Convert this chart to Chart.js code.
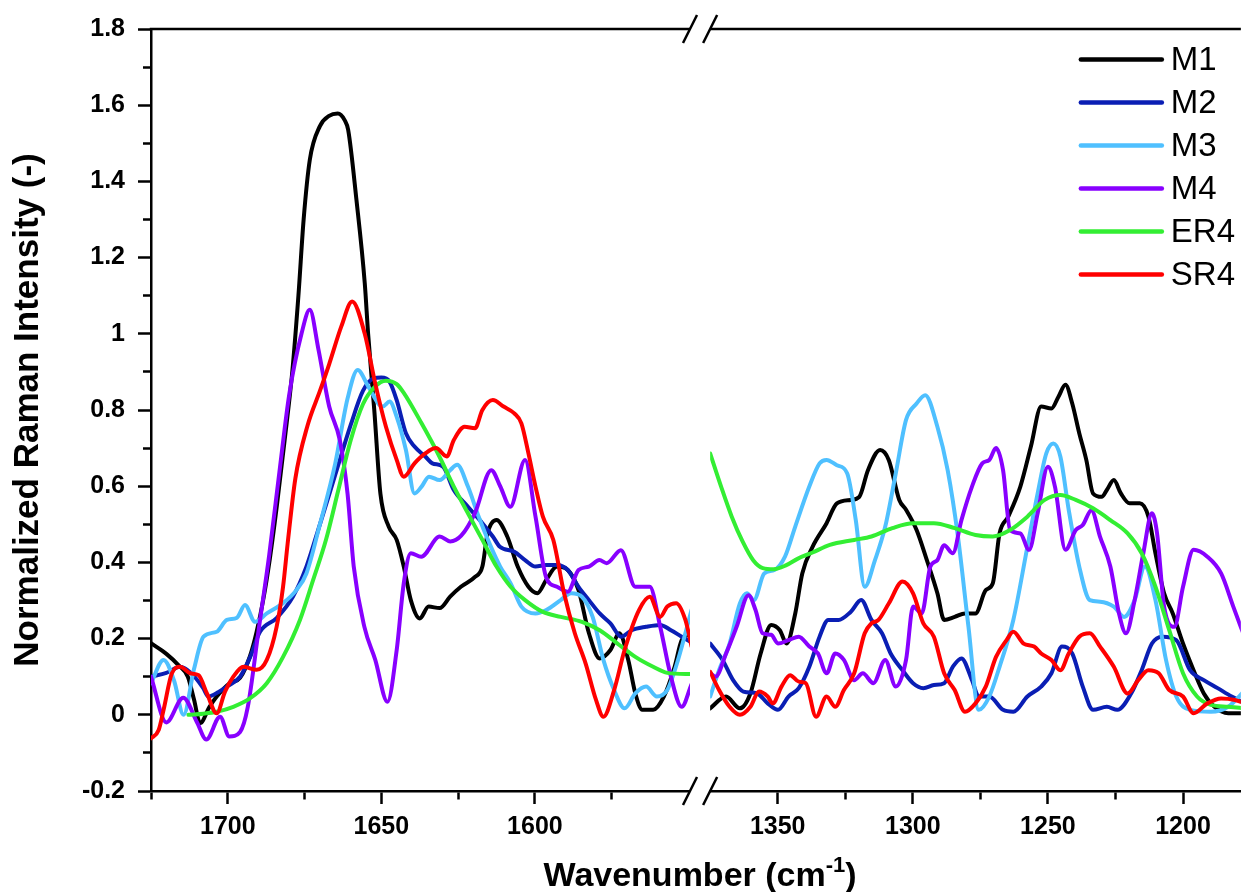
<!DOCTYPE html>
<html>
<head>
<meta charset="utf-8">
<title>Normalized Raman spectra</title>
<script src="https://cdn.jsdelivr.net/npm/chart.js@4.4.1/dist/chart.umd.min.js"></script>
<style>
  html, body { margin: 0; padding: 0; background: #fff; }
  canvas { display: block; }
</style>
</head>
<body>
<canvas id="chart" width="1244" height="892"></canvas>
<script>
// series names and colours
const seriesNames = ['M1', 'M2', 'M3', 'M4', 'ER4', 'SR4'];
const seriesColors = ['#000000', '#0a1eb4', '#4fc0ff', '#8800ff', '#33ee33', '#ff0000'];

// axis ticks (empty label = minor tick)
const yTickValues = [-0.2, -0.1, 0, 0.1, 0.2, 0.3, 0.4, 0.5, 0.6, 0.7, 0.8, 0.9, 1, 1.1, 1.2, 1.3, 1.4, 1.5, 1.6, 1.7, 1.8];
const yTickLabels = ['-0.2', '', '0', '', '0.2', '', '0.4', '', '0.6', '', '0.8', '', '1', '', '1.2', '', '1.4', '', '1.6', '', '1.8'];
const leftTickValues = [1725, 1700, 1675, 1650, 1625, 1600, 1575];
const leftTickLabels = ['', '1700', '', '1650', '', '1600', ''];
const rightTickValues = [1350, 1325, 1300, 1275, 1250, 1225, 1200];
const rightTickLabels = ['1350', '', '1300', '', '1250', '', '1200'];

const xTitleMain = 'Wavenumber (cm';
const xTitleSup = '-1';
const xTitleEnd = ')';
const yTitle = 'Normalized Raman Intensity (-)';

// [wavenumber, intensity] — left window 1725-1550 cm-1
const m1Left = [[1725,0.188],[1720,0.16],[1716,0.13],[1713,0.10],[1711,0.04],[1709,-0.022],[1706,0.02],[1703.6,0.048],[1699.3,0.083],[1696,0.097],[1692.8,0.153],[1690.6,0.218],[1688.5,0.30],[1686.3,0.41],[1684,0.55],[1681.5,0.72],[1679,0.90],[1677,1.10],[1675.3,1.30],[1673.3,1.456],[1670,1.545],[1667,1.572],[1664.2,1.578],[1661.9,1.56],[1660.8,1.535],[1658.1,1.351],[1655.4,1.133],[1654.3,1.0],[1652.3,0.80],[1650.3,0.58],[1647.6,0.494],[1645,0.459],[1642.7,0.389],[1640.4,0.301],[1637.5,0.253],[1634.6,0.284],[1631,0.28],[1627.6,0.31],[1624.1,0.336],[1619.5,0.362],[1617.1,0.389],[1615.4,0.476],[1612.5,0.511],[1609,0.468],[1605.6,0.389],[1602.1,0.336],[1599.2,0.319],[1596.3,0.354],[1592.8,0.389],[1589.3,0.38],[1585.8,0.327],[1582.4,0.214],[1578.9,0.148],[1575.4,0.17],[1572.5,0.214],[1569.6,0.144],[1567.3,0.056],[1565,0.013],[1561.5,0.013],[1558,0.048],[1554.5,0.126],[1552.2,0.196],[1549,0.214]];
const m2Left = [[1725,0.10],[1720,0.11],[1715.5,0.126],[1712,0.11],[1708,0.07],[1706.3,0.048],[1703,0.06],[1700.3,0.074],[1696,0.10],[1692.8,0.15],[1689.5,0.218],[1684.1,0.254],[1678.8,0.31],[1674.4,0.389],[1670,0.50],[1665,0.63],[1660,0.76],[1656,0.85],[1652.5,0.883],[1650,0.885],[1647.3,0.874],[1645,0.826],[1642,0.739],[1639.2,0.704],[1635.7,0.678],[1633.4,0.66],[1629.9,0.651],[1626.4,0.59],[1621.8,0.546],[1617.1,0.503],[1613.7,0.468],[1611.4,0.441],[1606.7,0.428],[1603.2,0.406],[1599.8,0.389],[1596.3,0.393],[1592.8,0.393],[1589.3,0.38],[1585.8,0.336],[1582.4,0.301],[1578.9,0.266],[1575.4,0.24],[1571.9,0.205],[1568.5,0.222],[1563.8,0.231],[1559.2,0.236],[1555.7,0.222],[1552.2,0.205],[1549,0.19]];
const m3Left = [[1725,0.083],[1720.9,0.144],[1717.5,0.09],[1714.4,0.0],[1711,0.12],[1707.9,0.205],[1703.6,0.218],[1700.3,0.249],[1697,0.255],[1694.4,0.288],[1691.1,0.244],[1687.3,0.266],[1682,0.293],[1677.6,0.328],[1674.4,0.371],[1670,0.50],[1665,0.66],[1661,0.83],[1657.7,0.905],[1654.2,0.861],[1649.6,0.809],[1647.3,0.822],[1645,0.782],[1642,0.695],[1639.2,0.581],[1636.9,0.599],[1634.5,0.625],[1631,0.616],[1627.6,0.642],[1625.3,0.656],[1621.8,0.599],[1618.3,0.52],[1614.8,0.45],[1611.3,0.389],[1607.9,0.345],[1604.4,0.284],[1599.8,0.266],[1596.3,0.275],[1591.6,0.301],[1588.2,0.319],[1584.7,0.31],[1581.2,0.257],[1577.7,0.144],[1574.2,0.065],[1570.8,0.017],[1567.3,0.056],[1563.8,0.074],[1560.3,0.048],[1556.9,0.065],[1553.4,0.144],[1549,0.275]];
const m4Left = [[1725,0.10],[1720,-0.02],[1714.5,0.045],[1710,-0.02],[1707,-0.065],[1702.5,-0.005],[1699.5,-0.057],[1696,-0.045],[1693.5,0.02],[1690,0.22],[1686.5,0.42],[1683,0.65],[1680,0.84],[1676,1.0],[1673.3,1.063],[1670.5,0.96],[1667,0.81],[1663.5,0.72],[1661,0.58],[1659,0.39],[1655.5,0.23],[1652,0.145],[1648,0.034],[1645,0.17],[1642.7,0.345],[1640.4,0.424],[1637,0.415],[1631,0.468],[1627.6,0.455],[1624,0.47],[1619.5,0.53],[1614.2,0.642],[1611.3,0.60],[1608,0.546],[1603.2,0.669],[1599.8,0.52],[1596.3,0.36],[1592.8,0.336],[1589.3,0.323],[1585.8,0.38],[1582.4,0.389],[1579,0.406],[1576.6,0.398],[1572,0.432],[1567.3,0.336],[1562.6,0.336],[1559.2,0.231],[1555.7,0.10],[1552.2,0.021],[1549,0.08]];
const er4Left = [[1712.8,0.0],[1708,0.003],[1703.6,0.008],[1698.2,0.021],[1692.8,0.043],[1687.3,0.083],[1682,0.152],[1676.5,0.249],[1672.2,0.354],[1668,0.46],[1664,0.59],[1660,0.72],[1656,0.815],[1652,0.862],[1648.5,0.877],[1645,0.868],[1642.7,0.845],[1636.9,0.765],[1631.1,0.678],[1626.4,0.599],[1621.8,0.529],[1617.1,0.459],[1612.5,0.389],[1607.9,0.336],[1603.2,0.301],[1597.4,0.27],[1591.6,0.257],[1584.7,0.244],[1578.9,0.222],[1573.1,0.187],[1567.3,0.152],[1561.5,0.126],[1556.9,0.11],[1549,0.107]];
const sr4Left = [[1725,-0.062],[1722.5,-0.04],[1720.9,0.013],[1718.2,0.109],[1715.5,0.126],[1712.2,0.109],[1709.5,0.104],[1706.8,0.056],[1703.6,0.004],[1700.9,0.061],[1698.2,0.1],[1694.9,0.126],[1690.6,0.118],[1687.3,0.144],[1684.1,0.231],[1682,0.336],[1680.5,0.45],[1678,0.62],[1674,0.76],[1670,0.85],[1667,0.92],[1663,1.02],[1659.5,1.085],[1655.4,1.0],[1652,0.87],[1648.5,0.756],[1645,0.669],[1642.7,0.625],[1639.2,0.66],[1635.7,0.686],[1632.2,0.70],[1628.7,0.678],[1626.4,0.721],[1622.9,0.756],[1619.5,0.752],[1617.1,0.80],[1613.7,0.826],[1610.2,0.809],[1606.7,0.791],[1604.4,0.765],[1602.1,0.686],[1599.8,0.599],[1597.4,0.52],[1594,0.459],[1590.5,0.319],[1587,0.214],[1583.5,0.135],[1580.1,0.039],[1577.7,-0.005],[1574.2,0.065],[1570.8,0.17],[1566.1,0.275],[1562.6,0.31],[1559.2,0.257],[1556.9,0.284],[1554,0.293],[1551,0.249],[1549,0.18]];

// [wavenumber, intensity] — right window 1375-1179 cm-1
const m1Right = [[1375,0.017],[1369.1,0.048],[1364,0.017],[1360.1,0.056],[1356.3,0.161],[1352.4,0.236],[1349.2,0.222],[1346.7,0.187],[1343.5,0.266],[1340.9,0.371],[1337.1,0.441],[1331.9,0.503],[1328.1,0.555],[1323,0.564],[1319.8,0.572],[1316.6,0.642],[1312.1,0.695],[1308.9,0.669],[1305,0.564],[1302.5,0.538],[1298.6,0.485],[1294.8,0.406],[1290.9,0.319],[1288.4,0.249],[1284.5,0.257],[1280.7,0.266],[1276.8,0.266],[1273,0.327],[1270.4,0.345],[1267.9,0.476],[1264.7,0.52],[1260.2,0.599],[1256.3,0.704],[1252.5,0.809],[1248.7,0.804],[1246.1,0.835],[1243.5,0.866],[1241,0.817],[1238.4,0.739],[1235.8,0.669],[1233.3,0.581],[1230.1,0.572],[1228.2,0.59],[1225.6,0.616],[1223,0.581],[1219.8,0.555],[1216,0.555],[1212.8,0.52],[1210.2,0.424],[1207,0.319],[1203.8,0.266],[1200,0.187],[1196.1,0.117],[1192.3,0.056],[1188.4,0.021],[1183.3,0.004],[1177,0.004]];
const m2Right = [[1375,0.187],[1370.4,0.144],[1366.5,0.091],[1362.7,0.061],[1357.6,0.056],[1353.7,0.03],[1349.9,0.013],[1346,0.048],[1342.2,0.07],[1338.3,0.126],[1334.5,0.205],[1331.3,0.249],[1327.5,0.249],[1323,0.27],[1319.1,0.301],[1315.3,0.249],[1311.4,0.214],[1308.2,0.161],[1303.8,0.117],[1299.9,0.083],[1296.1,0.07],[1292.2,0.078],[1288.4,0.083],[1285.2,0.126],[1282,0.148],[1278.1,0.091],[1275.6,0.048],[1271.7,0.048],[1266.6,0.013],[1262.8,0.008],[1257.6,0.048],[1252.5,0.074],[1248.7,0.109],[1244.8,0.179],[1241,0.161],[1237.1,0.074],[1233.3,0.013],[1228.2,0.021],[1224.3,0.013],[1219.2,0.056],[1215.3,0.117],[1211.5,0.187],[1207.6,0.205],[1202.5,0.196],[1197.4,0.117],[1192.3,0.091],[1187.2,0.07],[1182,0.048],[1177,0.03]];
const m3Right = [[1375,0.048],[1371.7,0.117],[1367.8,0.187],[1364,0.292],[1361.4,0.319],[1358.8,0.301],[1355,0.371],[1351.2,0.38],[1347.3,0.415],[1343.5,0.494],[1338.3,0.599],[1334.5,0.66],[1331.9,0.669],[1328.1,0.655],[1324.3,0.634],[1321.1,0.511],[1317.8,0.336],[1314,0.406],[1310.2,0.494],[1306.3,0.634],[1302.5,0.774],[1298.6,0.817],[1295.4,0.839],[1290.9,0.756],[1287.1,0.642],[1283.3,0.468],[1279.4,0.231],[1275.6,0.013],[1271.7,0.048],[1267.9,0.126],[1262.8,0.249],[1257.6,0.441],[1253.8,0.581],[1250.6,0.686],[1248,0.712],[1245.4,0.678],[1242.3,0.538],[1238.4,0.389],[1234.5,0.301],[1230.7,0.297],[1225.6,0.284],[1221.8,0.257],[1217.9,0.301],[1214.1,0.389],[1210.2,0.301],[1206.3,0.144],[1202.5,0.048],[1197.4,0.013],[1189.7,0.008],[1183.3,0.021],[1177,0.065]];
const m4Right = [[1375,0.11],[1373,0.10],[1369.1,0.161],[1365.2,0.231],[1360.8,0.314],[1358.2,0.275],[1355.6,0.214],[1352.4,0.21],[1349.9,0.187],[1346,0.196],[1342.2,0.205],[1338.3,0.179],[1335.1,0.161],[1331.9,0.109],[1328.7,0.161],[1325.5,0.144],[1321.7,0.091],[1318.5,0.109],[1314.6,0.083],[1310.2,0.144],[1306.3,0.074],[1302.5,0.144],[1299.9,0.284],[1296.7,0.266],[1293.5,0.389],[1290.9,0.406],[1288.4,0.445],[1285.2,0.424],[1282,0.511],[1278.1,0.599],[1274.3,0.66],[1271.7,0.669],[1269.2,0.70],[1266.6,0.642],[1264,0.485],[1260.2,0.476],[1257,0.433],[1253.8,0.529],[1250,0.651],[1247.4,0.599],[1243.5,0.433],[1239.7,0.485],[1237.1,0.498],[1233.9,0.537],[1230.7,0.467],[1226.9,0.389],[1223.7,0.266],[1221.1,0.214],[1217.9,0.301],[1214.7,0.424],[1211.5,0.529],[1209.6,0.476],[1207,0.284],[1203.2,0.231],[1200,0.336],[1196.1,0.433],[1191,0.415],[1185.9,0.371],[1181.4,0.284],[1177,0.20]];
const er4Right = [[1375,0.686],[1371,0.60],[1367,0.52],[1363,0.455],[1359,0.405],[1355.5,0.385],[1351.5,0.382],[1347,0.392],[1342.5,0.41],[1337.1,0.426],[1330.7,0.446],[1321.7,0.459],[1315.3,0.468],[1307.6,0.49],[1299.9,0.503],[1292.2,0.503],[1284.5,0.49],[1276.8,0.472],[1270.4,0.468],[1264,0.485],[1257.6,0.52],[1251.2,0.564],[1245.4,0.577],[1239.7,0.564],[1233.3,0.542],[1226.9,0.511],[1220.5,0.476],[1215.3,0.424],[1210.2,0.336],[1205.1,0.222],[1200,0.109],[1194.8,0.048],[1189.7,0.026],[1183.3,0.021],[1177,0.017]];
const sr4Right = [[1375,0.113],[1371.7,0.065],[1367.8,0.021],[1364,0.0],[1360.1,0.021],[1356.9,0.061],[1353.7,0.048],[1351.8,0.03],[1348.6,0.074],[1345.4,0.104],[1342.2,0.087],[1339.6,0.083],[1335.8,-0.005],[1331.9,0.048],[1328.7,0.021],[1325.5,0.065],[1321.7,0.109],[1317.8,0.214],[1315.3,0.24],[1312.7,0.249],[1308.9,0.292],[1303.8,0.35],[1299.9,0.319],[1296.1,0.24],[1292.2,0.205],[1288.4,0.109],[1284.5,0.065],[1280.7,0.008],[1276.8,0.03],[1273,0.074],[1269.2,0.152],[1265.3,0.196],[1262.8,0.218],[1259,0.187],[1255.1,0.179],[1252.5,0.161],[1248.7,0.144],[1245.4,0.117],[1242.3,0.161],[1238.4,0.205],[1234.5,0.214],[1230.7,0.179],[1225.6,0.126],[1220.5,0.056],[1216.6,0.091],[1212.8,0.117],[1209,0.109],[1205.1,0.065],[1200,0.048],[1196.1,0.004],[1191,0.03],[1185.9,0.043],[1180.8,0.039],[1177,0.03]];

const leftData = [m1Left, m2Left, m3Left, m4Left, er4Left, sr4Left];
const rightData = [m1Right, m2Right, m3Right, m4Right, er4Right, sr4Right];

const FONT = '"Liberation Sans", Arial, Helvetica, sans-serif';

// the two windows of the broken axis (px per cm-1 differs a little between them)
const leftMin = 1549.5, leftMax = 1725, rightMin = 1178.6, rightMax = 1375;

let datasets = [];
seriesNames.forEach((name, i) => {
    const common = {
        label: name,
        borderColor: seriesColors[i],
        backgroundColor: seriesColors[i],
        borderWidth: 4,
        pointRadius: 0,
        fill: false,
        cubicInterpolationMode: 'monotone',
        borderCapStyle: 'round',
        borderJoinStyle: 'round',
        order: seriesNames.length - i
    };
    datasets.push(Object.assign({}, common, {data: leftData[i], xAxisID: 'x1', yAxisID: 'y'}));
    datasets.push(Object.assign({}, common, {data: rightData[i], xAxisID: 'x2', yAxisID: 'y'}));
});

const xAxis = (min, max, weight, tickValues, tickLabels) => ({
    type: 'linear',
    position: 'bottom',
    reverse: true,
    min: min,
    max: max,
    stack: 'wn',
    stackWeight: weight,
    afterBuildTicks: s => { s.ticks = tickValues.map(v => ({value: v})); },
    afterFit: s => { s.height = 101; },
    border: {display: true, color: '#000', width: 2.5},
    grid: {
        display: true,
        drawOnChartArea: false,
        tickLength: 13,
        tickWidth: 2.5,
        tickColor: '#000',
        tickBorderDash: c => tickLabels[c.index] === '' ? [7, 100] : []
    },
    ticks: {
        autoSkip: false,
        maxRotation: 0,
        padding: 8,
        color: '#000',
        font: {family: FONT, size: 25, weight: 'bold'},
        callback: (v, i) => tickLabels[i]
    }
});

// broken axis: top frame line and the // marks
const breakPlugin = {
    id: 'axisBreak',
    afterDraw(chart) {
        const {ctx, chartArea} = chart;
        const a = chart.scales.x1, b = chart.scales.x2;
        ctx.save();
        ctx.strokeStyle = '#000';
        ctx.lineWidth = 2.5;
        ctx.beginPath();
        ctx.moveTo(chartArea.left - 1.25, chartArea.top);
        ctx.lineTo(a.right, chartArea.top);
        ctx.moveTo(b.left, chartArea.top);
        ctx.lineTo(chartArea.right, chartArea.top);
        ctx.stroke();
        ctx.fillStyle = '#fff';
        for (const y of [chartArea.top, chartArea.bottom]) {
            ctx.fillRect(a.right + 1, y - 3, b.left - a.right - 2, 6);
            for (const x of [a.right, b.left]) {
                ctx.beginPath();
                ctx.moveTo(x - 7, y + 14);
                ctx.lineTo(x + 7, y - 14);
                ctx.stroke();
            }
        }
        ctx.restore();
    }
};

// legend in the top right corner of the plot
const legendPlugin = {
    id: 'cornerLegend',
    afterDraw(chart) {
        const {ctx, chartArea} = chart;
        const x0 = chartArea.right - 160;
        ctx.save();
        ctx.font = '33px ' + FONT;
        ctx.textBaseline = 'middle';
        ctx.lineCap = 'round';
        seriesNames.forEach((name, i) => {
            const y = chartArea.top + 30.5 + i * 43;
            ctx.strokeStyle = seriesColors[i];
            ctx.lineWidth = 4.5;
            ctx.beginPath();
            ctx.moveTo(x0, y);
            ctx.lineTo(x0 + 81, y);
            ctx.stroke();
            ctx.fillStyle = '#000';
            ctx.fillText(name, x0 + 90, y + 1);
        });
        ctx.restore();
    }
};

// x axis title with superscript, centred on the break
const xTitlePlugin = {
    id: 'xTitle',
    afterDraw(chart) {
        const g = chart.scales.xg;
        const ctx = chart.ctx;
        const cx = (g.left + g.right) / 2;
        const base = chart.height - 6;
        const big = 'bold 34px ' + FONT, small = 'bold 22px ' + FONT;
        ctx.save();
        ctx.fillStyle = '#000';
        ctx.textBaseline = 'alphabetic';
        ctx.textAlign = 'left';
        ctx.font = big;
        const w1 = ctx.measureText(xTitleMain).width;
        const w3 = ctx.measureText(xTitleEnd).width;
        ctx.font = small;
        const w2 = ctx.measureText(xTitleSup).width;
        let x = cx - (w1 + w2 + w3) / 2;
        ctx.font = big;
        ctx.fillText(xTitleMain, x, base);
        x += w1;
        ctx.font = small;
        ctx.fillText(xTitleSup, x, base - 14);
        x += w2;
        ctx.font = big;
        ctx.fillText(xTitleEnd, x, base);
        ctx.restore();
    }
};

const ctx = document.querySelector('#chart').getContext('2d');
const chart = new Chart(ctx, {
    type: 'line',
    data: {datasets: datasets},
    options: {
        responsive: false,
        animation: false,
        devicePixelRatio: 1,
        layout: {padding: {top: 29, right: 0, bottom: 0, left: 0}},
        plugins: {
            legend: {display: false},
            title: {display: false},
            tooltip: {enabled: false}
        },
        scales: {
            x1: xAxis(leftMin, leftMax, (leftMax - leftMin) * 3.08, leftTickValues, leftTickLabels),
            xg: {type: 'linear', position: 'bottom', display: false, min: 0, max: 1, stack: 'wn', stackWeight: 20.2},
            x2: xAxis(rightMin, rightMax, (rightMax - rightMin) * 2.71, rightTickValues, rightTickLabels),
            y: {
                type: 'linear',
                position: 'left',
                min: -0.2,
                max: 1.8,
                afterBuildTicks: s => { s.ticks = yTickValues.map(v => ({value: v})); },
                afterFit: s => { s.width = 151; },
                border: {display: true, color: '#000', width: 2.5},
                grid: {
                    display: true,
                    drawOnChartArea: false,
                    tickLength: 13,
                    tickWidth: 2.5,
                    tickColor: '#000',
                    tickBorderDash: c => yTickLabels[c.index] === '' ? [0, 5, 8, 100] : []
                },
                ticks: {
                    autoSkip: false,
                    padding: 13,
                    color: '#000',
                    font: {family: FONT, size: 25, weight: 'bold'},
                    callback: (v, i) => yTickLabels[i]
                },
                title: {
                    display: true,
                    text: yTitle,
                    color: '#000',
                    font: {family: FONT, size: 35, weight: 'bold'},
                    padding: {top: 7, bottom: 0}
                }
            }
        }
    },
    plugins: [breakPlugin, legendPlugin, xTitlePlugin]
});
</script>
</body>
</html>
